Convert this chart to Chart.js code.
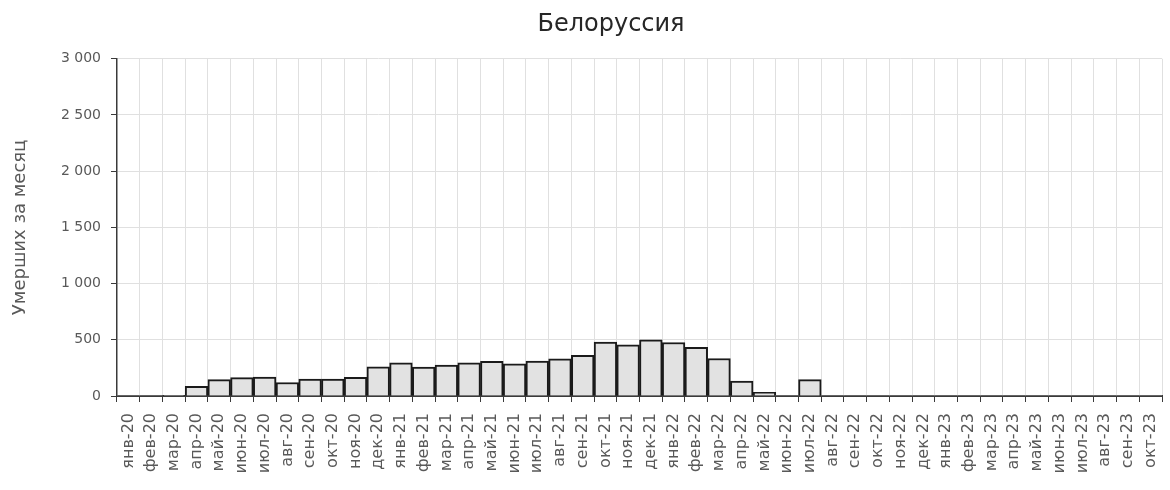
<!DOCTYPE html>
<html>
<head>
<meta charset="utf-8">
<script src="https://cdn.jsdelivr.net/npm/chart.js@4"></script>
<style>
  html, body { margin: 0; padding: 0; background: #fff; }
  #wrap { width: 1170px; height: 490px; position: relative; }
</style>
</head>
<body>
<div id="wrap"><canvas id="chartBel"></canvas></div>
<script>
const labels = [
  'янв-20', 'фев-20', 'мар-20', 'апр-20', 'май-20', 'июн-20', 'июл-20', 'авг-20', 'сен-20', 'окт-20', 'ноя-20', 'дек-20',
  'янв-21', 'фев-21', 'мар-21', 'апр-21', 'май-21', 'июн-21', 'июл-21', 'авг-21', 'сен-21', 'окт-21', 'ноя-21', 'дек-21',
  'янв-22', 'фев-22', 'мар-22', 'апр-22', 'май-22', 'июн-22', 'июл-22', 'авг-22', 'сен-22', 'окт-22', 'ноя-22', 'дек-22',
  'янв-23', 'фев-23', 'мар-23', 'апр-23', 'май-23', 'июн-23', 'июл-23', 'авг-23', 'сен-23', 'окт-23'
];

const deaths = [
  0, 0, 3, 85, 145, 163, 168, 120, 150, 150, 165, 260,
  295, 258, 275, 295, 308, 287, 310, 331, 361, 479, 455, 500,
  476, 432, 334, 133, 33, 0, 145, 0, 0, 0, 0, 0,
  0, 0, 0, 0, 0, 0, 0, 0, 0, 0
];

const yTicks = [0, 500, 1000, 1500, 2000, 2500, 3000];

const palette = {
  barFill: '#e2e2e2',
  barBorder: '#1a1a1a',
  grid: '#e0e0e0',
  axis: '#3a3a3a',
  text: '#595959',
  title: '#262626'
};

const fmt = v => String(v).replace(/\B(?=(\d{3})+(?!\d))/g, ' ');

// the original title sits a bit right of the page centre
const titleShift = {
  id: 'titleShift',
  afterLayout(chart) {
    if (chart.titleBlock) chart.titleBlock.left += 50;
  }
};

new Chart(document.getElementById('chartBel').getContext('2d'), {
  type: 'bar',
  data: {
    labels: labels,
    datasets: [{
      label: 'Умерших за месяц',
      data: deaths,
      backgroundColor: palette.barFill,
      borderColor: palette.barBorder,
      // no outline on empty months, like the original
      borderWidth: ctx => (ctx.raw ? 2 : 0),
      barPercentage: 1,
      categoryPercentage: 1
    }]
  },
  plugins: [titleShift],
  options: {
    responsive: true,
    maintainAspectRatio: false,
    animation: false,
    layout: { padding: { left: 10, right: 8, top: 0, bottom: 0 } },
    plugins: {
      legend: { display: false },
      tooltip: { enabled: false },
      title: {
        display: true,
        text: 'Белоруссия',
        color: palette.title,
        font: { family: 'DejaVu Sans', size: 24, weight: 'normal' },
        padding: { top: 10, bottom: 20 }
      }
    },
    scales: {
      x: {
        grid: { color: palette.grid, tickColor: palette.axis, tickLength: 6, offset: true },
        border: { color: palette.axis, width: 2 },
        ticks: {
          color: palette.text,
          font: { family: 'DejaVu Sans', size: 16 },
          minRotation: 90,
          maxRotation: 90,
          autoSkip: false,
          padding: 11
        },
        afterFit: s => { s.height = 94; s.paddingLeft = 0; s.paddingRight = 0; }
      },
      y: {
        min: 0,
        max: 3000,
        afterBuildTicks: s => { s.ticks = yTicks.map(v => ({ value: v })); },
        grid: { color: palette.grid, tickColor: palette.axis, tickLength: 6 },
        border: { color: palette.axis, width: 1.5 },
        ticks: {
          color: palette.text,
          font: { family: 'DejaVu Sans', size: 14 },
          padding: 10,
          callback: v => fmt(v)
        },
        title: {
          display: true,
          text: 'Умерших за месяц',
          color: palette.text,
          font: { family: 'DejaVu Sans', size: 18 },
          padding: { top: 0, bottom: 0 }
        },
        afterFit: s => { s.width = 107; }
      }
    }
  }
});
</script>
</body>
</html>
